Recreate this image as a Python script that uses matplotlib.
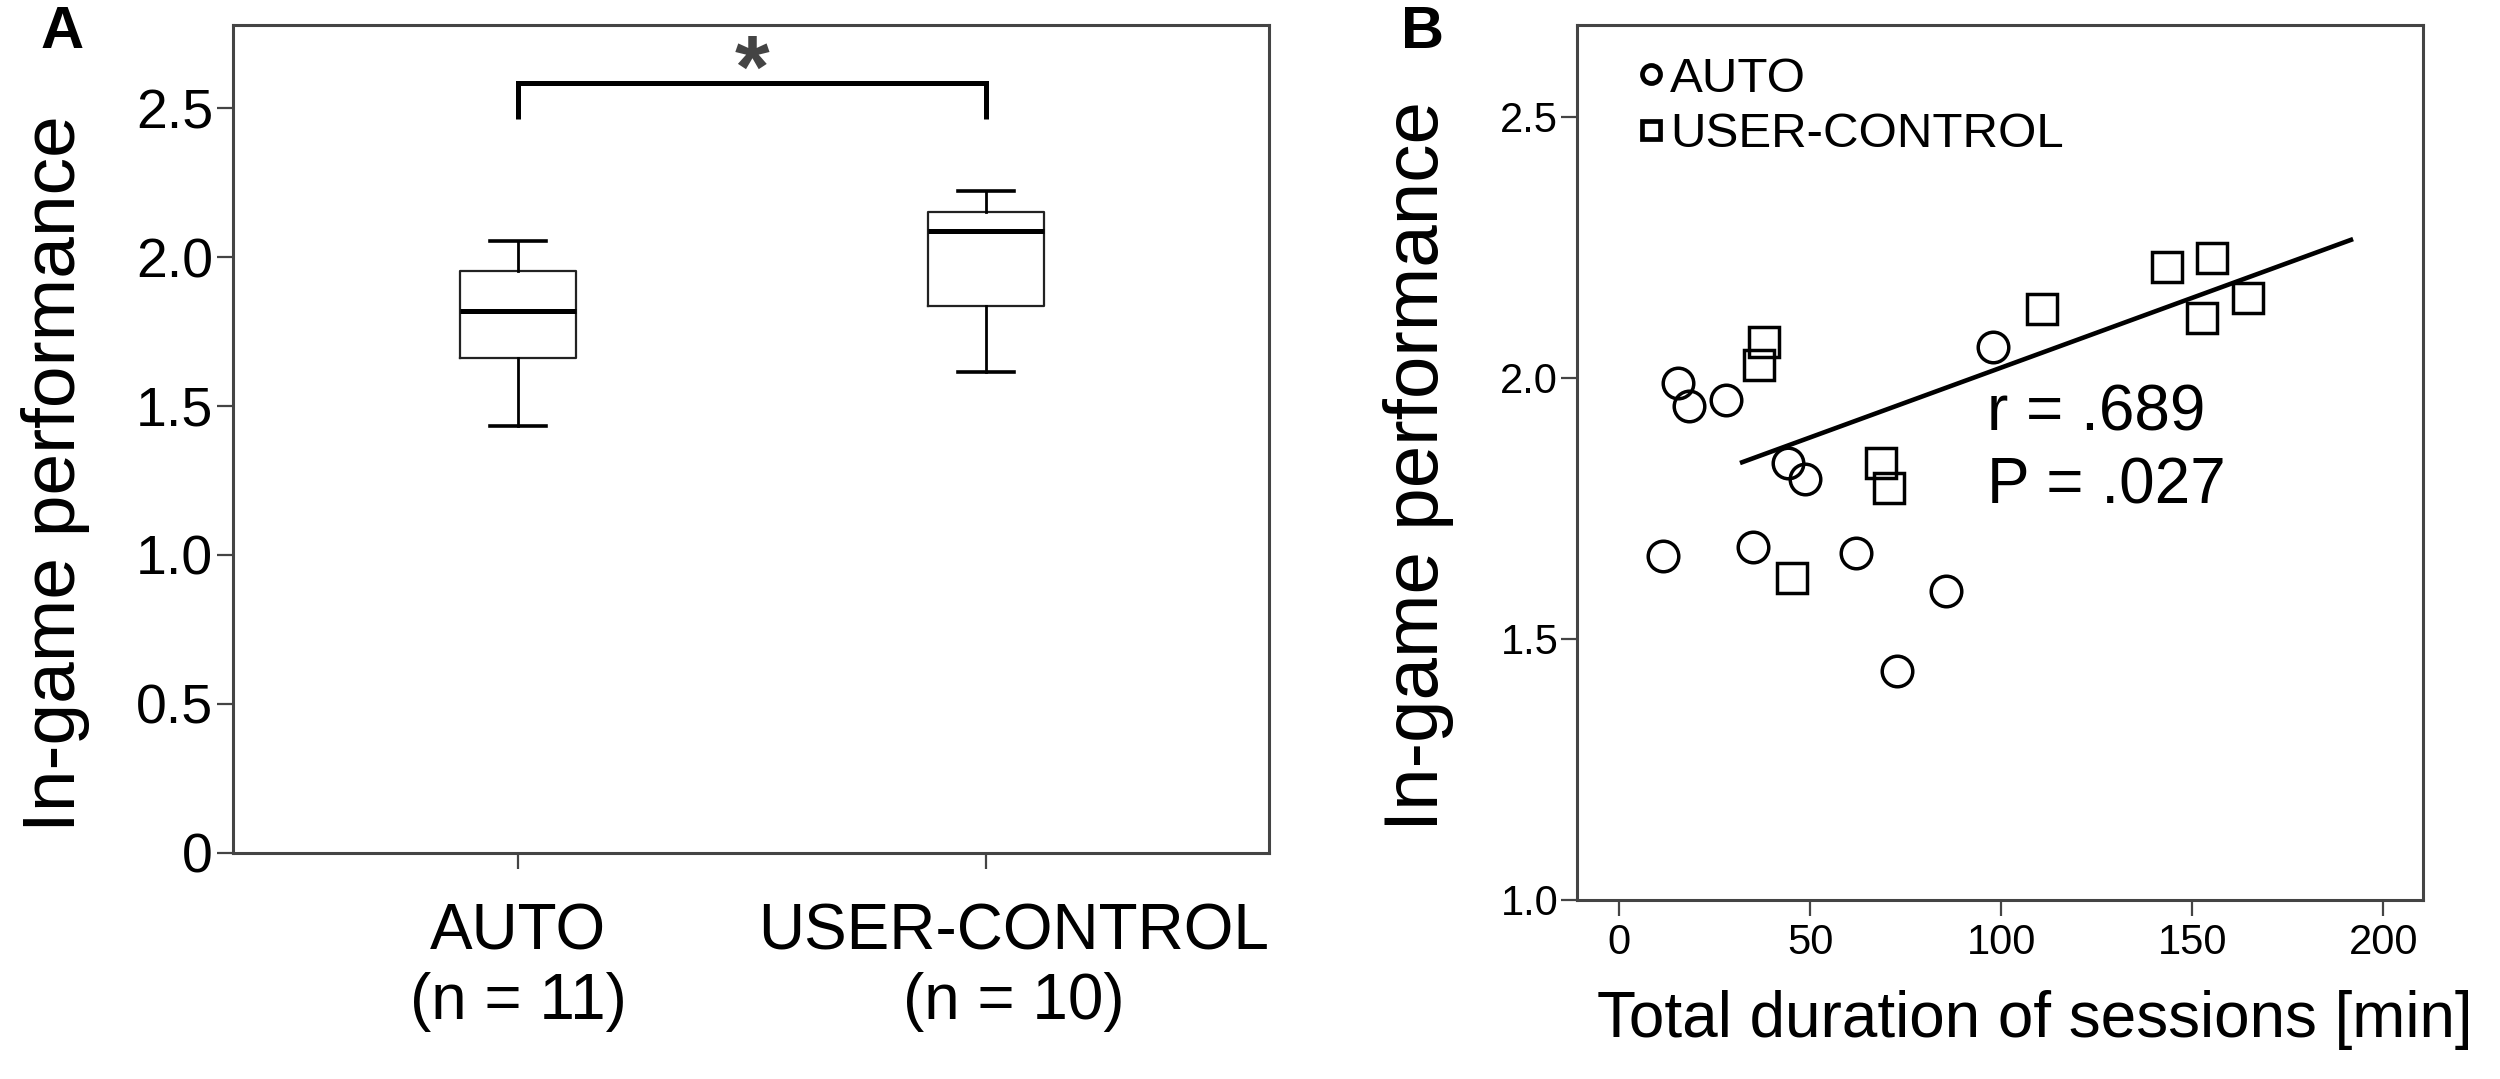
import matplotlib
matplotlib.use("Agg")
import matplotlib.pyplot as plt
from matplotlib.lines import Line2D
from matplotlib.transforms import ScaledTranslation

plt.rcParams['font.family'] = ['Liberation Sans', 'DejaVu Sans']

# ---------------- Panel A data (box plot summary) ----------------
groups = ['AUTO', 'USER-CONTROL']
group_n = [11, 10]
whisker_low = [1.434, 1.613]
q1 = [1.660, 1.836]
median = [1.819, 2.089]
q3 = [1.952, 2.150]
whisker_high = [2.054, 2.223]
a_yticks = [0, 0.5, 1.0, 1.5, 2.0, 2.5]
a_yticklabels = ['0', '0.5', '1.0', '1.5', '2.0', '2.5']
sig_bracket_top = 2.586
sig_bracket_bottom = 2.463
sig_label = '*'

# ---------------- Panel B data (scatter) ----------------
auto_minutes = [11.4, 15.5, 18.3, 27.9, 34.9, 44.2, 48.6, 61.9, 72.8, 85.4, 97.8]
auto_perf = [1.659, 1.990, 1.946, 1.957, 1.676, 1.838, 1.806, 1.664, 1.439, 1.592, 2.059]
uc_minutes = [36.6, 38.0, 45.3, 68.4, 70.5, 110.6, 143.5, 152.6, 155.1, 164.7]
uc_perf = [2.025, 2.068, 1.617, 1.838, 1.790, 2.132, 2.212, 2.114, 2.229, 2.154]
fit_minutes = [31.6, 192.1]
fit_perf = [1.837, 2.266]
b_xticks = [0, 50, 100, 150, 200]
b_yticks = [1.0, 1.5, 2.0, 2.5]
b_yticklabels = ['1.0', '1.5', '2.0', '2.5']
r_text = 'r = .689'
p_text = 'P = .027'

SPINE = '#444444'

fig = plt.figure(figsize=(25, 10.79), dpi=100)
axA = fig.add_axes([0.0933, 0.2097, 0.4143, 0.7671])
axB = fig.add_axes([0.6308, 0.1659, 0.3384, 0.8109])

for ax in (axA, axB):
    for s in ax.spines.values():
        s.set_color(SPINE)
        s.set_linewidth(2.2)

# ---------------- Panel A ----------------
stats = []
for i in range(len(groups)):
    stats.append(dict(med=median[i], q1=q1[i], q3=q3[i],
                      whislo=whisker_low[i], whishi=whisker_high[i], fliers=[]))
positions = [1, 2]
axA.bxp(stats, positions=positions, widths=0.248, capwidths=0.12, showfliers=False,
        boxprops=dict(color='#222222', linewidth=1.6),
        medianprops=dict(color='black', linewidth=3.6),
        whiskerprops=dict(color='black', linewidth=2.0),
        capprops=dict(color='black', linewidth=2.6))
axA.plot([positions[0], positions[0], positions[1], positions[1]],
         [sig_bracket_bottom, sig_bracket_top, sig_bracket_top, sig_bracket_bottom],
         color='black', linewidth=3.6, solid_capstyle='butt', solid_joinstyle='miter')
axA.text((positions[0] + positions[1]) / 2, sig_bracket_top - 0.112, sig_label,
         ha='center', va='bottom', fontsize=64, fontweight='bold', color='#444444')
axA.set_xlim(0.39, 2.606)
axA.set_ylim(0, 2.779)
axA.set_yticks(a_yticks, labels=a_yticklabels)
axA.set_xticks(positions, labels=[f'{g}\n(n = {n})' for g, n in zip(groups, group_n)])
axA.tick_params(axis='y', length=11.5, width=1.6, color=SPINE, labelsize=40, pad=3)
axA.tick_params(axis='x', length=11.5, width=1.6, color=SPINE, labelsize=46, pad=24)
for lab in axA.get_xticklabels():
    lab.set_linespacing(1.22)
# the second category label sits slightly right of its tick in the original
xl = axA.get_xticklabels()[1]
xl.set_transform(xl.get_transform() + ScaledTranslation(0.28, 0, fig.dpi_scale_trans))

fig.text(0.0224, 0.5607, 'In-game performance', rotation=90, ha='center', va='center',
         fontsize=54)
fig.text(0.025, 0.970, 'A', ha='center', va='center', fontsize=43, fontweight='bold')

# ---------------- Panel B ----------------
axB.plot(auto_minutes, auto_perf, linestyle='none', marker='o', markersize=22,
         markerfacecolor='none', markeredgecolor='black', markeredgewidth=2.5)
axB.plot(uc_minutes, uc_perf, linestyle='none', marker='s', markersize=21.5,
         markerfacecolor='none', markeredgecolor='black', markeredgewidth=2.5)
axB.plot(fit_minutes, fit_perf, color='black', linewidth=3.3, solid_capstyle='butt')
axB.set_xlim(-11.07, 210.4)
axB.set_ylim(1.0, 2.676)
axB.set_xticks(b_xticks)
axB.set_yticks(b_yticks, labels=b_yticklabels)
axB.tick_params(axis='both', length=11.5, width=1.6, color=SPINE, labelsize=30)
axB.tick_params(axis='y', pad=2)
axB.tick_params(axis='x', pad=5)

axB.text(0.4846, 0.537, r_text, transform=axB.transAxes, ha='left', va='baseline', fontsize=46)
axB.text(0.4846, 0.4526, p_text, transform=axB.transAxes, ha='left', va='baseline', fontsize=46)

handles = [Line2D([], [], linestyle='none', marker='o', markersize=13, markerfacecolor='none',
                  markeredgecolor='black', markeredgewidth=3.4),
           Line2D([], [], linestyle='none', marker='s', markersize=13, markerfacecolor='none',
                  markeredgecolor='black', markeredgewidth=3.4)]
axB.legend(handles, ['AUTO', 'USER-CONTROL'], loc='upper left', bbox_to_anchor=(0.0702, 0.964),
           frameon=False, fontsize=35.5, handlelength=0.6, handletextpad=0.08,
           labelspacing=0.22, borderpad=0, borderaxespad=0)

fig.text(0.814, 1 - 1037 / 1079, 'Total duration of sessions [min]', ha='center', va='baseline',
         fontsize=46)
fig.text(0.5676, 0.568, 'In-game performance', rotation=90, ha='center', va='center',
         fontsize=55)
fig.text(0.569, 0.970, 'B', ha='center', va='center', fontsize=43, fontweight='bold')

fig.savefig('out.png', dpi=100)
